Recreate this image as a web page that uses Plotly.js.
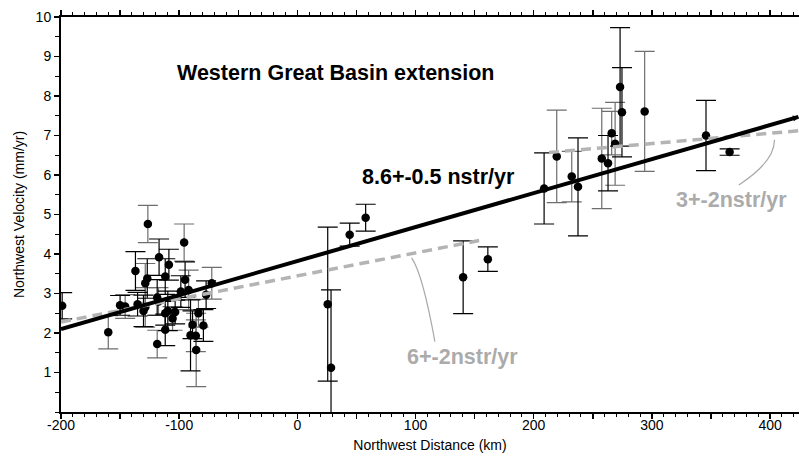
<!DOCTYPE html>
<html>
<head>
<meta charset="utf-8">
<script src="https://cdn.plot.ly/plotly-3.0.1.min.js"></script>
<style>html,body{margin:0;padding:0;background:#fff;}#chart{width:799px;height:463px;}</style>
</head>
<body>
<div id="chart"></div>
<script>
// Station data: northwest distance (km), northwest velocity (mm/yr), 1-sigma error, error-bar tone
const distKm = [-199, -160, -126.5, -95.8, -137, -117, -108.7, -111.8, -127, -128.7,
  -95, -98.6, -92, -72.4, -77.2, -150, -145.7, -135.2, -128.7, -130.2,
  -118.6, -117.5, -111.8, -109.6, -105.6, -103.4, -83.7, -111.8, -118.6, -88.7,
  -79.5, -90.4, -85.9, -85.6,
  25.7, 28.5, 44.3, 57.8, 140.3, 161.2,
  208.8, 219.5, 232.2, 237.5, 257.6, 262.9, 266, 268.9, 273.1, 274.7, 293.9, 345.8, 365.8];
const velocity = [2.69, 2.02, 4.76, 4.29, 3.57, 3.92, 3.73, 3.43, 3.38, 3.26,
  3.35, 3.05, 3.09, 3.26, 2.97, 2.70, 2.67, 2.73, 2.65, 2.56,
  2.90, 2.80, 2.50, 2.56, 2.37, 2.53, 2.50, 2.08, 1.72, 2.21,
  2.19, 1.94, 1.93, 1.57,
  2.73, 1.12, 4.49, 4.92, 3.41, 3.87,
  5.66, 6.47, 5.96, 5.70, 6.42, 6.30, 7.06, 6.79, 8.23, 7.59, 7.61, 7.00, 6.58];
const sigma = [0.33, 0.42, 0.47, 0.47, 0.49, 0.46, 0.39, 0.45, 0.50, 0.50,
  0.45, 0.40, 0.50, 0.40, 0.35, 0.25, 0.30, 0.30, 0.50, 0.40,
  0.45, 0.35, 0.30, 0.50, 0.30, 0.30, 0.35, 0.40, 0.35, 0.35,
  0.40, 0.90, 0.40, 0.93,
  1.95, 1.97, 0.29, 0.34, 0.92, 0.31,
  0.90, 1.17, 0.64, 1.24, 1.27, 0.70, 0.55, 1.05, 1.50, 1.13, 1.52, 0.89, 0.08];
const barTone = ['k','g','g','g','k','k','k','k','k','g',
  'k','k','g','g','k','k','g','k','g','k',
  'k','g','k','k','g','k','g','k','g','k',
  'k','k','g','g',
  'k','k','k','k','k','k',
  'k','g','g','k','g','k','g','g','k','k','g','k','k'];

// Fitted strain-rate lines (endpoints)
const fitAllX = [-200, 424];
const fitAllY = [2.10, 7.47];
const fitWestX = [-200, 157];
const fitWestY = [2.28, 4.36];
const fitEastX = [213, 424];
const fitEastY = [6.57, 7.12];

// Axis ticks
const xTickVals = [-200, -150, -100, -50, 0, 50, 100, 150, 200, 250, 300, 350, 400];
const xTickText = ['-200', '', '-100', '', '0', '', '100', '', '200', '', '300', '', '400'];
const yTickVals = [1, 2, 3, 4, 5, 6, 7, 8, 9, 10];

const FONT = 'Liberation Sans, Arial, Helvetica, sans-serif';

function pick(arr, tone) { return arr.filter((_, i) => barTone[i] === tone); }

const traces = [];
[['g', '#6e6e6e'], ['k', '#000000']].forEach(([tone, col]) => {
  traces.push({
    type: 'scatter', mode: 'markers',
    x: pick(distKm, tone), y: pick(velocity, tone),
    error_y: { type: 'data', array: pick(sigma, tone), visible: true, color: col, thickness: 1.2, width: 10 },
    marker: { color: '#000', size: 8.5 },
    showlegend: false, hoverinfo: 'x+y'
  });
});
traces.push({ type: 'scatter', mode: 'lines', x: fitWestX, y: fitWestY,
  line: { color: '#b4b4b4', width: 3.5, dash: '10px,6px' }, showlegend: false });
traces.push({ type: 'scatter', mode: 'lines', x: fitEastX, y: fitEastY,
  line: { color: '#b4b4b4', width: 3.5, dash: '10px,6px' }, showlegend: false });
traces.push({ type: 'scatter', mode: 'lines', x: fitAllX, y: fitAllY,
  line: { color: '#000', width: 4 }, showlegend: false });

const layout = {
  width: 799, height: 463,
  margin: { l: 61, r: 0, t: 17, b: 51 },
  paper_bgcolor: '#fff', plot_bgcolor: '#fff',
  font: { family: FONT, size: 14, color: '#000' },
  xaxis: {
    range: [-200, 424.5], showgrid: false, zeroline: false,
    tickmode: 'array', tickvals: xTickVals, ticktext: xTickText,
    ticks: 'outside', ticklen: 5, tickwidth: 1.5, tickcolor: '#000',
    minor: { dtick: 10, tick0: 0, ticks: 'outside', ticklen: 3, tickwidth: 1, tickcolor: '#000' },
    showline: true, linewidth: 2, linecolor: '#000', mirror: 'ticks',
    ticklabelstandoff: -6,
    tickfont: { family: FONT, size: 14, color: '#000' },
    title: { text: 'Northwest Distance (km)', font: { family: FONT, size: 14, color: '#000' }, standoff: 8 }
  },
  yaxis: {
    range: [0, 10], showgrid: false, zeroline: false,
    tickmode: 'array', tickvals: yTickVals,
    ticks: 'outside', ticklen: 5, tickwidth: 1.5, tickcolor: '#000',
    minor: { dtick: 0.5, tick0: 0, ticks: 'outside', ticklen: 4, tickwidth: 1, tickcolor: '#000' },
    showline: true, linewidth: 2, linecolor: '#000',
    tickfont: { family: FONT, size: 14, color: '#000' },
    title: { text: 'Northwest Velocity (mm/yr)', font: { family: FONT, size: 14, color: '#000' }, standoff: 8 }
  },
  annotations: [
    { x: 31.9, y: 8.59, xref: 'x', yref: 'y', text: '<b>Western Great Basin extension</b>', showarrow: false,
      xanchor: 'center', yanchor: 'middle', font: { family: FONT, size: 21.5, color: '#000' } },
    { x: 53, y: 5.96, xref: 'x', yref: 'y', text: '<b>8.6+-0.5 nstr/yr</b>', showarrow: false,
      xanchor: 'left', yanchor: 'middle', font: { family: FONT, size: 21.5, color: '#000' } },
    { x: 91.2, y: 1.39, xref: 'x', yref: 'y', text: '<b>6+-2nstr/yr</b>', showarrow: false,
      xanchor: 'left', yanchor: 'middle', font: { family: FONT, size: 21.5, color: '#ababab' } },
    { x: 318.5, y: 5.37, xref: 'x', yref: 'y', text: '<b>3+-2nstr/yr</b>', showarrow: false,
      xanchor: 'left', yanchor: 'middle', font: { family: FONT, size: 21.5, color: '#ababab' } },
    { x: 424.5, y: 7.47, ax: 418, ay: 7.42, xref: 'x', yref: 'y', axref: 'x', ayref: 'y', text: '',
      showarrow: true, arrowhead: 2, arrowsize: 0.8, arrowwidth: 1.5, arrowcolor: '#000' }
  ],
  shapes: [
    { type: 'path', xref: 'x', yref: 'y', path: 'M 96.7,3.90 Q 106,3.50 116.4,1.78',
      line: { color: '#a8a8a8', width: 1.2 } },
    { type: 'path', xref: 'x', yref: 'y', path: 'M 403.7,6.89 Q 404,6.34 373.6,5.75',
      line: { color: '#a8a8a8', width: 1.2 } }
  ]
};

Plotly.newPlot('chart', traces, layout, { staticPlot: true, displayModeBar: false });
</script>
</body>
</html>
